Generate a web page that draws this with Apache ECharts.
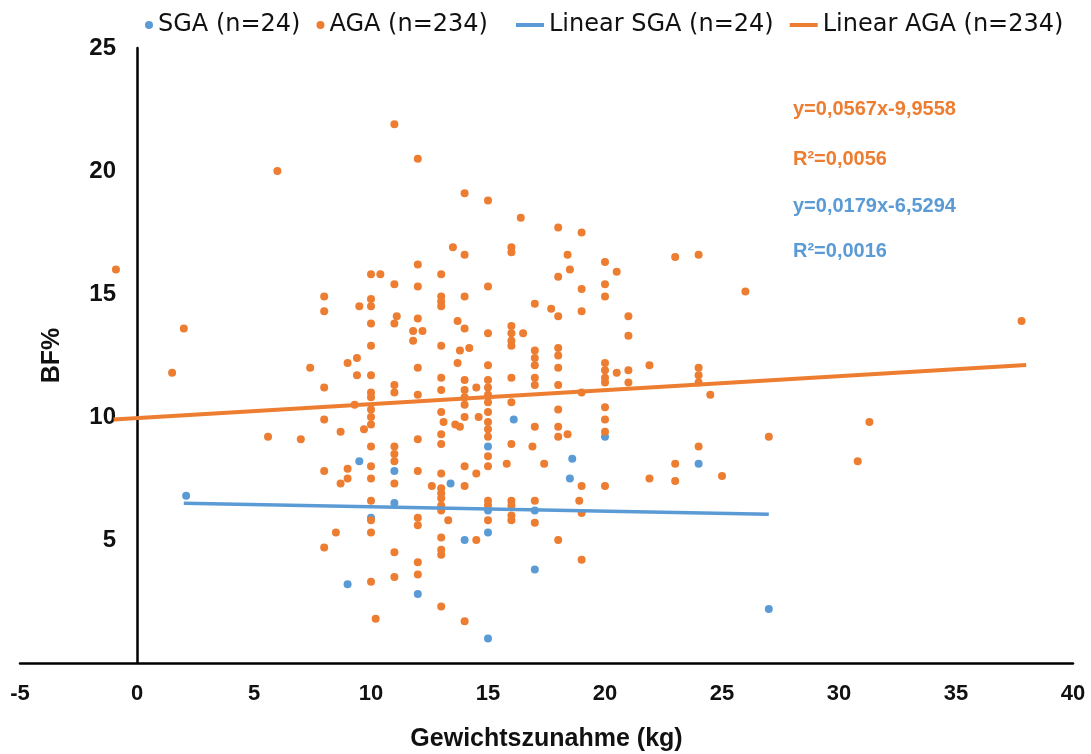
<!DOCTYPE html>
<html>
<head>
<meta charset="utf-8">
<script src="https://cdn.jsdelivr.net/npm/echarts@6/dist/echarts.min.js"></script>
<style>
html,body{margin:0;padding:0;background:#fff;}
#chart{width:1091px;height:754px;}
</style>
</head>
<body>
<div id="chart"></div>
<script>
// SGA (n=24): [Gewichtszunahme kg, BF%]
var sgaPoints = [
    [2.1, 6.8], [9.5, 8.2], [9.0, 3.2], [10.0, 5.9], [11.0, 7.8], [11.0, 6.5],
    [12.0, 2.8], [13.4, 7.3], [14.0, 5.0], [15.0, 8.8], [15.0, 5.3], [15.0, 6.2],
    [15.0, 1.0], [16.1, 9.9], [17.0, 6.2], [17.0, 3.8], [18.6, 8.3], [18.5, 7.5],
    [20.0, 9.2], [24.0, 8.1], [27.0, 2.2]
];
// AGA (n=234)
var agaPoints = [
    [-0.9, 16.0], [1.5, 11.8], [2.0, 13.6], [5.6, 9.2], [6.0, 20.0], [7.0, 9.1], [7.4, 12.0],
    [8, 14.9], [8, 14.3], [8, 11.2], [8, 9.9], [8, 7.8], [8, 4.7],
    [8.5, 5.3], [8.7, 9.4], [8.7, 7.3], [9.0, 12.2], [9.0, 7.9], [9.0, 7.5],
    [9.3, 10.5], [9.4, 12.4], [9.4, 11.7], [9.5, 14.5], [9.7, 9.5],
    [10, 15.8], [10, 14.8], [10, 14.5], [10, 13.8], [10, 12.9], [10, 11.7], [10, 11.0], [10, 10.8],
    [10, 10.3], [10, 10.0], [10, 9.7], [10, 8.8], [10, 8.0], [10, 7.5], [10, 6.6], [10, 5.8],
    [10, 5.3], [10, 3.3], [10.2, 1.8], [10.4, 15.8],
    [11, 21.9], [11, 15.4], [11.1, 14.1], [11, 13.8], [11, 11.3], [11, 11.0], [11, 8.8], [11, 8.5],
    [11, 8.2], [11, 7.3], [11, 4.5], [11, 3.5],
    [12, 20.5], [12, 16.2], [12, 15.3], [12, 14.0], [11.8, 13.5], [12.2, 13.5], [11.8, 13.1], [12, 12.0],
    [12, 10.9], [12, 9.1], [12, 7.8], [12, 5.9], [12, 5.6], [12, 4.1], [12, 3.6],
    [13, 15.8], [13, 14.9], [13, 14.7], [13, 14.5], [13, 12.9], [13, 11.6], [13, 11.1], [13, 10.2],
    [13.1, 9.8], [13, 9.3], [13, 8.9], [13, 7.7], [12.6, 7.2], [13, 7.1], [13, 6.9], [13, 6.7],
    [13, 6.4], [13, 6.2], [13.3, 5.8], [13, 5.1], [13, 4.6], [13, 4.4], [13, 2.3],
    [14, 19.1], [13.5, 16.9], [14, 16.6], [14, 14.9], [13.7, 13.9], [14, 13.6], [13.8, 12.7], [14.2, 12.8],
    [13.7, 12.2], [14, 11.5], [14, 11.1], [14, 10.8], [14, 10.5], [14, 10.0], [13.6, 9.7], [13.8, 9.6],
    [14, 8.0], [14, 7.2], [14, 1.7], [14.5, 11.2], [14.6, 10.0], [14.5, 7.7], [14.5, 5.0],
    [15, 18.8], [15, 15.3], [15, 13.4], [15, 12.1], [15, 11.5], [15, 11.2], [15, 10.9], [15, 10.6],
    [15, 10.2], [15, 9.8], [15, 9.5], [15, 9.2], [15, 8.4], [15, 8.0], [15, 6.6], [15, 6.4], [15, 5.8],
    [16, 16.9], [16, 16.7], [16, 13.7], [16, 13.4], [16, 13.1], [16, 12.9], [16, 11.6], [16, 10.6],
    [16, 8.9], [16, 6.6], [16, 6.4], [16, 6.0], [16, 5.8], [15.8, 8.1], [16.5, 13.4], [16.4, 18.1],
    [17, 14.6], [17, 12.7], [17, 12.4], [17, 12.1], [17, 11.6], [17, 11.3], [17, 9.6], [16.9, 8.8],
    [17, 6.6], [17, 5.7], [17.4, 8.1], [17.7, 14.4],
    [18, 17.7], [18, 15.7], [18, 14.1], [18, 12.8], [18, 12.5], [18, 12.0], [18, 11.3], [18, 10.3],
    [18, 9.6], [18, 9.2], [18, 5.0], [18.4, 16.6], [18.5, 16.0], [18.4, 9.3],
    [19, 17.5], [19, 15.2], [19, 14.3], [19, 11.0], [19, 7.2], [18.9, 6.6], [19, 6.1], [19, 4.2],
    [20, 16.3], [20, 15.4], [20, 14.9], [20, 12.2], [20, 11.9], [20, 11.6], [20, 11.4], [20, 10.4],
    [20, 9.9], [20, 9.4], [20, 7.2], [20.5, 15.9], [20.5, 11.8],
    [21, 14.1], [21, 13.3], [21, 11.9], [21, 11.4], [21.9, 12.1], [21.9, 7.5],
    [23, 16.5], [23, 8.1], [23, 7.4], [24, 16.6], [24, 12.0], [24, 11.7], [24, 11.4], [24, 8.8],
    [24.5, 10.9], [25, 7.6], [26, 15.1], [27, 9.2], [30.8, 8.2], [31.3, 9.8], [37.8, 13.9]
];
// Trendline end points
var sgaTrend = [[2, 6.49], [27, 6.05]];
var agaTrend = [[-1, 9.9], [38, 12.11]];

var seriesNames = ['SGA (n=24)', 'AGA (n=234)', 'Linear SGA (n=24)', 'Linear AGA (n=234)'];
var equations = ['y=0,0567x-9,9558', 'R²=0,0056', 'y=0,0179x-6,5294', 'R²=0,0016'];

var blue = '#5B9BD5';
var orange = '#ED7D31';

var myChart = echarts.init(document.getElementById('chart'));
var option = {
    animation: false,
    backgroundColor: '#fff',
    legend: [
        {
            data: [seriesNames[0], seriesNames[1]],
            left: 140,
            top: 8,
            icon: 'circle',
            itemWidth: 8,
            itemHeight: 8,
            itemGap: 16,
            textStyle: {fontFamily: 'DejaVu Sans', fontSize: 24, color: '#111'}
        },
        {
            data: [
                {name: seriesNames[2], icon: 'rect'},
                {name: seriesNames[3], icon: 'rect'}
            ],
            left: 511,
            top: 8,
            itemWidth: 28,
            itemHeight: 4,
            itemGap: 16,
            textStyle: {fontFamily: 'DejaVu Sans', fontSize: 24, color: '#111'}
        }
    ],
    grid: {left: 20, right: 18, top: 48, bottom: 91, containLabel: false, outerBoundsMode: 'none'},
    xAxis: {
        type: 'value',
        min: -5,
        max: 40,
        interval: 5,
        name: 'Gewichtszunahme (kg)',
        nameLocation: 'middle',
        nameGap: 64,
        nameTextStyle: {fontFamily: 'Liberation Sans', fontWeight: 'bold', fontSize: 25, color: '#111'},
        axisLine: {lineStyle: {color: '#000', width: 2.5}},
        axisTick: {show: false},
        splitLine: {show: false},
        axisLabel: {margin: 20, fontFamily: 'Liberation Sans', fontWeight: 'bold', fontSize: 22, color: '#111'}
    },
    yAxis: {
        type: 'value',
        min: 0,
        max: 25,
        interval: 5,
        offset: -117,
        name: 'BF%',
        nameLocation: 'middle',
        nameRotate: 90,
        nameGap: 72,
        nameTextStyle: {fontFamily: 'Liberation Sans', fontWeight: 'bold', fontSize: 25, color: '#111'},
        axisLine: {onZero: false, lineStyle: {color: '#000', width: 2.5}},
        axisTick: {show: false},
        splitLine: {show: false},
        axisLabel: {
            margin: 21,
            fontFamily: 'Liberation Sans', fontWeight: 'bold', fontSize: 24, color: '#111',
            formatter: function(v){ return v === 0 ? '' : v; }
        }
    },
    graphic: [
        {type: 'text', left: 793, top: 99, style: {text: equations[0], fill: orange, font: 'bold 20px "Liberation Sans"'}},
        {type: 'text', left: 793, top: 149, style: {text: equations[1], fill: orange, font: 'bold 20px "Liberation Sans"'}},
        {type: 'text', left: 793, top: 196, style: {text: equations[2], fill: blue, font: 'bold 20px "Liberation Sans"'}},
        {type: 'text', left: 793, top: 241, style: {text: equations[3], fill: blue, font: 'bold 20px "Liberation Sans"'}}
    ],
    series: [
        {
            name: seriesNames[0],
            type: 'scatter',
            symbolSize: 8,
            itemStyle: {color: blue, opacity: 1},
            data: sgaPoints
        },
        {
            name: seriesNames[1],
            type: 'scatter',
            symbolSize: 8,
            itemStyle: {color: orange, opacity: 1},
            data: agaPoints
        },
        {
            name: seriesNames[2],
            type: 'line',
            symbol: 'none',
            lineStyle: {color: blue, width: 3.5},
            itemStyle: {color: blue},
            data: sgaTrend
        },
        {
            name: seriesNames[3],
            type: 'line',
            symbol: 'none',
            lineStyle: {color: orange, width: 4},
            itemStyle: {color: orange},
            data: agaTrend
        }
    ]
};
myChart.setOption(option);
</script>
</body>
</html>
